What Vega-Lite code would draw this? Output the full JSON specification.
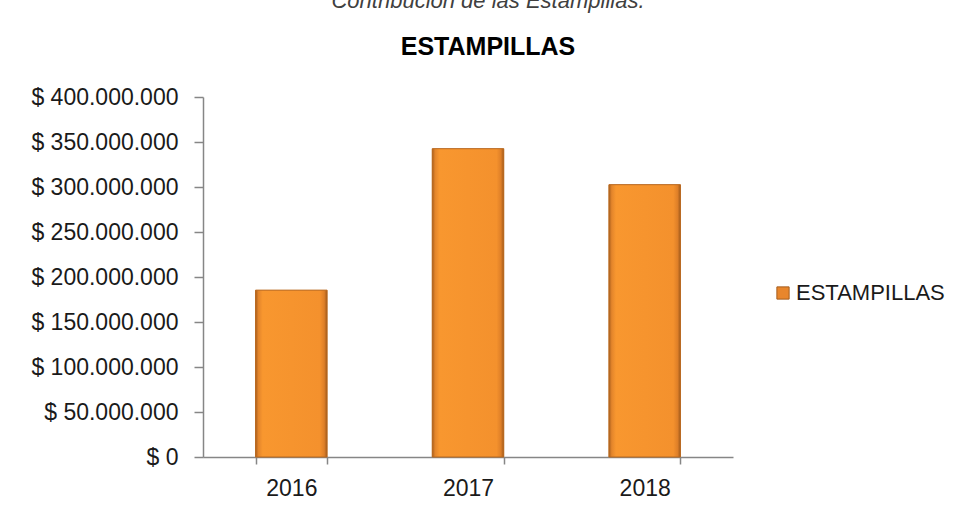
{
  "$schema": "https://vega.github.io/schema/vega-lite/v6.json",
  "width": 530,
  "height": 360,
  "padding": {"left": 30, "top": -10, "right": 5, "bottom": 5},
  "config": {
    "locale": {"number": {"decimal": ",", "thousands": ".", "grouping": [3], "currency": ["$ ", ""]}},
    "view": {"stroke": null},
    "font": "Liberation Sans"
  },
  "title": {
    "text": "Contribución de las Estampillas.",
    "subtitle": "ESTAMPILLAS",
    "anchor": "middle",
    "frame": "group",
    "dx": 20,
    "font": "Liberation Sans",
    "fontSize": 22,
    "fontStyle": "italic",
    "fontWeight": "normal",
    "color": "#404040",
    "subtitleFont": "Liberation Sans",
    "subtitleFontSize": 25,
    "subtitleFontWeight": "bold",
    "subtitleColor": "#000000",
    "subtitlePadding": 22,
    "offset": 25
  },
  "data": {
    "values": [
      {"year": "2016", "value": 185400000, "serie": "ESTAMPILLAS"},
      {"year": "2017", "value": 342600000, "serie": "ESTAMPILLAS"},
      {"year": "2018", "value": 302600000, "serie": "ESTAMPILLAS"}
    ]
  },
  "encoding": {
    "x": {
      "field": "year",
      "type": "nominal",
      "title": null,
      "scale": {"paddingInner": 0.595, "paddingOuter": 0.2975},
      "axis": {
        "labelAngle": 0,
        "labelFontSize": 23,
        "labelColor": "#1a1a1a",
        "labelPadding": 13,
        "tickBand": "extent",
        "tickSize": 7,
        "tickColor": "#868686",
        "domainColor": "#868686",
        "domainWidth": 1.5,
        "tickWidth": 1.5
      }
    },
    "y": {
      "field": "value",
      "type": "quantitative",
      "title": null,
      "scale": {"domain": [0, 400000000]},
      "axis": {
        "values": [0, 50000000, 100000000, 150000000, 200000000, 250000000, 300000000, 350000000, 400000000],
        "format": "$,d",
        "grid": false,
        "labelFontSize": 23,
        "labelColor": "#1a1a1a",
        "labelPadding": 16,
        "tickSize": 9,
        "tickColor": "#868686",
        "domainColor": "#868686",
        "domainWidth": 1.5,
        "tickWidth": 1.5
      }
    }
  },
  "layer": [
    {
      "mark": {"type": "bar"},
      "encoding": {
        "color": {
          "field": "serie",
          "type": "nominal",
          "scale": {"range": ["#E8862C"]},
          "legend": {
            "title": null,
            "orient": "none",
            "legendX": 569,
            "legendY": 185,
            "symbolType": "square",
            "symbolSize": 150,
            "symbolStrokeColor": "#A65E1E",
            "symbolStrokeWidth": 1,
            "labelFontSize": 22,
            "labelColor": "#1a1a1a",
            "labelOffset": 2
          }
        }
      }
    },
    {
      "mark": {
        "type": "bar",
        "stroke": "#B8681F",
        "strokeWidth": 1,
        "fill": {
          "gradient": "linear",
          "x1": 0, "y1": 0, "x2": 1, "y2": 0,
          "stops": [
            {"offset": 0, "color": "#A85E1C"},
            {"offset": 0.04, "color": "#E3852B"},
            {"offset": 0.1, "color": "#F8972F"},
            {"offset": 0.9, "color": "#F4912D"},
            {"offset": 0.96, "color": "#DE7F28"},
            {"offset": 1, "color": "#A05A1C"}
          ]
        }
      }
    }
  ]
}
